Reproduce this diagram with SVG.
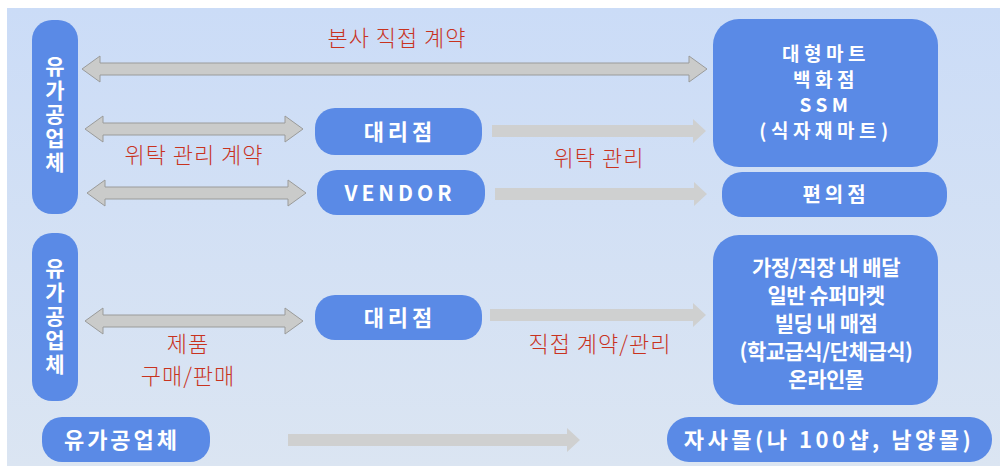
<svg xmlns="http://www.w3.org/2000/svg" width="1006" height="469" viewBox="0 0 1006 469">
<defs>
<linearGradient id="bg" x1="0" y1="0" x2="0" y2="1">
<stop offset="0" stop-color="#cbdcf7"/>
<stop offset="1" stop-color="#dbe5f2"/>
</linearGradient>
</defs>
<style>
.node{fill:#5a8ae6}
.t{font-family:"Noto Sans CJK KR","Noto Sans",sans-serif;font-weight:700;fill:#ffffff;text-anchor:middle}
.v{font-family:"Noto Sans CJK KR",sans-serif;font-weight:700;fill:#ffffff;text-anchor:middle;writing-mode:vertical-rl;font-size:21px;letter-spacing:3px}
.hand{font-family:"Noto Sans CJK KR",sans-serif;font-weight:300;fill:#c8331f;text-anchor:middle;font-size:22px;letter-spacing:1px}
.dbl{fill:#cacbca;stroke:#9a9b9a;stroke-width:1}
.one{fill:#cfd0d0}
</style>
<rect x="0" y="0" width="1006" height="469" fill="#ffffff"/>
<rect x="7" y="8" width="993" height="458" fill="url(#bg)"/>

<g id="connectors">
<path class="dbl" d="M82,69 L100,56 L100,63 L689,63 L689,56 L707,69 L689,82 L689,75 L100,75 L100,82 Z"/>
<path class="dbl" d="M85,129 L103,116 L103,123 L285,123 L285,116 L303,129 L285,142 L285,135 L103,135 L103,142 Z"/>
<path class="dbl" d="M87,193 L105,180 L105,187 L288,187 L288,180 L306,193 L288,206 L288,199 L105,199 L105,206 Z"/>
<path class="dbl" d="M85,321 L103,308 L103,315 L285,315 L285,308 L303,321 L285,334 L285,327 L103,327 L103,334 Z"/>
<path class="one" d="M492,125 L693,125 L693,119 L706,131 L693,143 L693,137 L492,137 Z"/>
<path class="one" d="M495,188 L694,188 L694,182 L707,194 L694,206 L694,200 L495,200 Z"/>
<path class="one" d="M490,309 L693,309 L693,303 L706,315 L693,327 L693,321 L490,321 Z"/>
<path class="one" d="M288,434 L567,434 L567,428 L580,440 L567,452 L567,446 L288,446 Z"/>
<text class="hand" x="397" y="46" letter-spacing="2">본사 직접 계약</text>
<text class="hand" x="194" y="163">위탁 관리 계약</text>
<text class="hand" x="599" y="166">위탁 관리</text>
<text class="hand" x="188" y="352">제품</text>
<text class="hand" x="188" y="384">구매/판매</text>
<text class="hand" x="600" y="352">직접 계약/관리</text>
</g>

<g id="supplier1">
<rect class="node" x="32" y="20" width="46" height="194" rx="20"/>
<text class="v" x="55" y="116">유가공업체</text>
</g>
<g id="agency1">
<rect class="node" x="315" y="108" width="167" height="47" rx="20"/>
<text class="t" font-size="22" letter-spacing="4" x="400" y="140">대리점</text>
</g>
<g id="vendor">
<rect class="node" x="317" y="170" width="168" height="45" rx="20"/>
<text class="t" font-size="21" letter-spacing="4" x="400" y="201">VENDOR</text>
</g>
<g id="bigmart">
<rect class="node" x="713" y="19" width="225" height="148" rx="26"/>
<text class="t" font-size="19" letter-spacing="4.5" x="826" y="61">대형마트</text>
<text class="t" font-size="19" letter-spacing="4.5" x="826" y="86.5">백화점</text>
<text class="t" font-size="19" letter-spacing="4.5" x="826" y="112">SSM</text>
<text class="t" font-size="19" letter-spacing="4.5" x="826" y="137.5">(식자재마트)</text>
</g>
<g id="conv">
<rect class="node" x="722" y="172" width="225" height="45" rx="20"/>
<text class="t" font-size="20" letter-spacing="4" x="836" y="202">편의점</text>
</g>

<g id="supplier2">
<rect class="node" x="32" y="233" width="46" height="168" rx="20"/>
<text class="v" x="55" y="318">유가공업체</text>
</g>
<g id="agency2">
<rect class="node" x="315" y="295" width="167" height="45" rx="20"/>
<text class="t" font-size="22" letter-spacing="4" x="400" y="326">대리점</text>
</g>
<g id="channels">
<rect class="node" x="713" y="235" width="225" height="170" rx="26"/>
<text class="t" font-size="21" letter-spacing="-0.5" x="826" y="275">가정/직장 내 배달</text>
<text class="t" font-size="21" letter-spacing="-0.5" x="826" y="303">일반 슈퍼마켓</text>
<text class="t" font-size="21" letter-spacing="-0.5" x="826" y="331">빌딩 내 매점</text>
<text class="t" font-size="21" letter-spacing="-0.5" x="826" y="359">(학교급식/단체급식)</text>
<text class="t" font-size="21" letter-spacing="-0.5" x="826" y="387">온라인몰</text>
</g>

<g id="supplier3">
<rect class="node" x="42" y="417" width="168" height="45" rx="20"/>
<text class="t" font-size="22" x="122" y="448" letter-spacing="3">유가공업체</text>
</g>
<g id="ownmall">
<rect class="node" x="667" y="417" width="325" height="45" rx="22"/>
<text class="t" font-size="22" x="829" y="448" letter-spacing="3.5">자사몰(나 100샵, 남양몰)</text>
</g>
</svg>
